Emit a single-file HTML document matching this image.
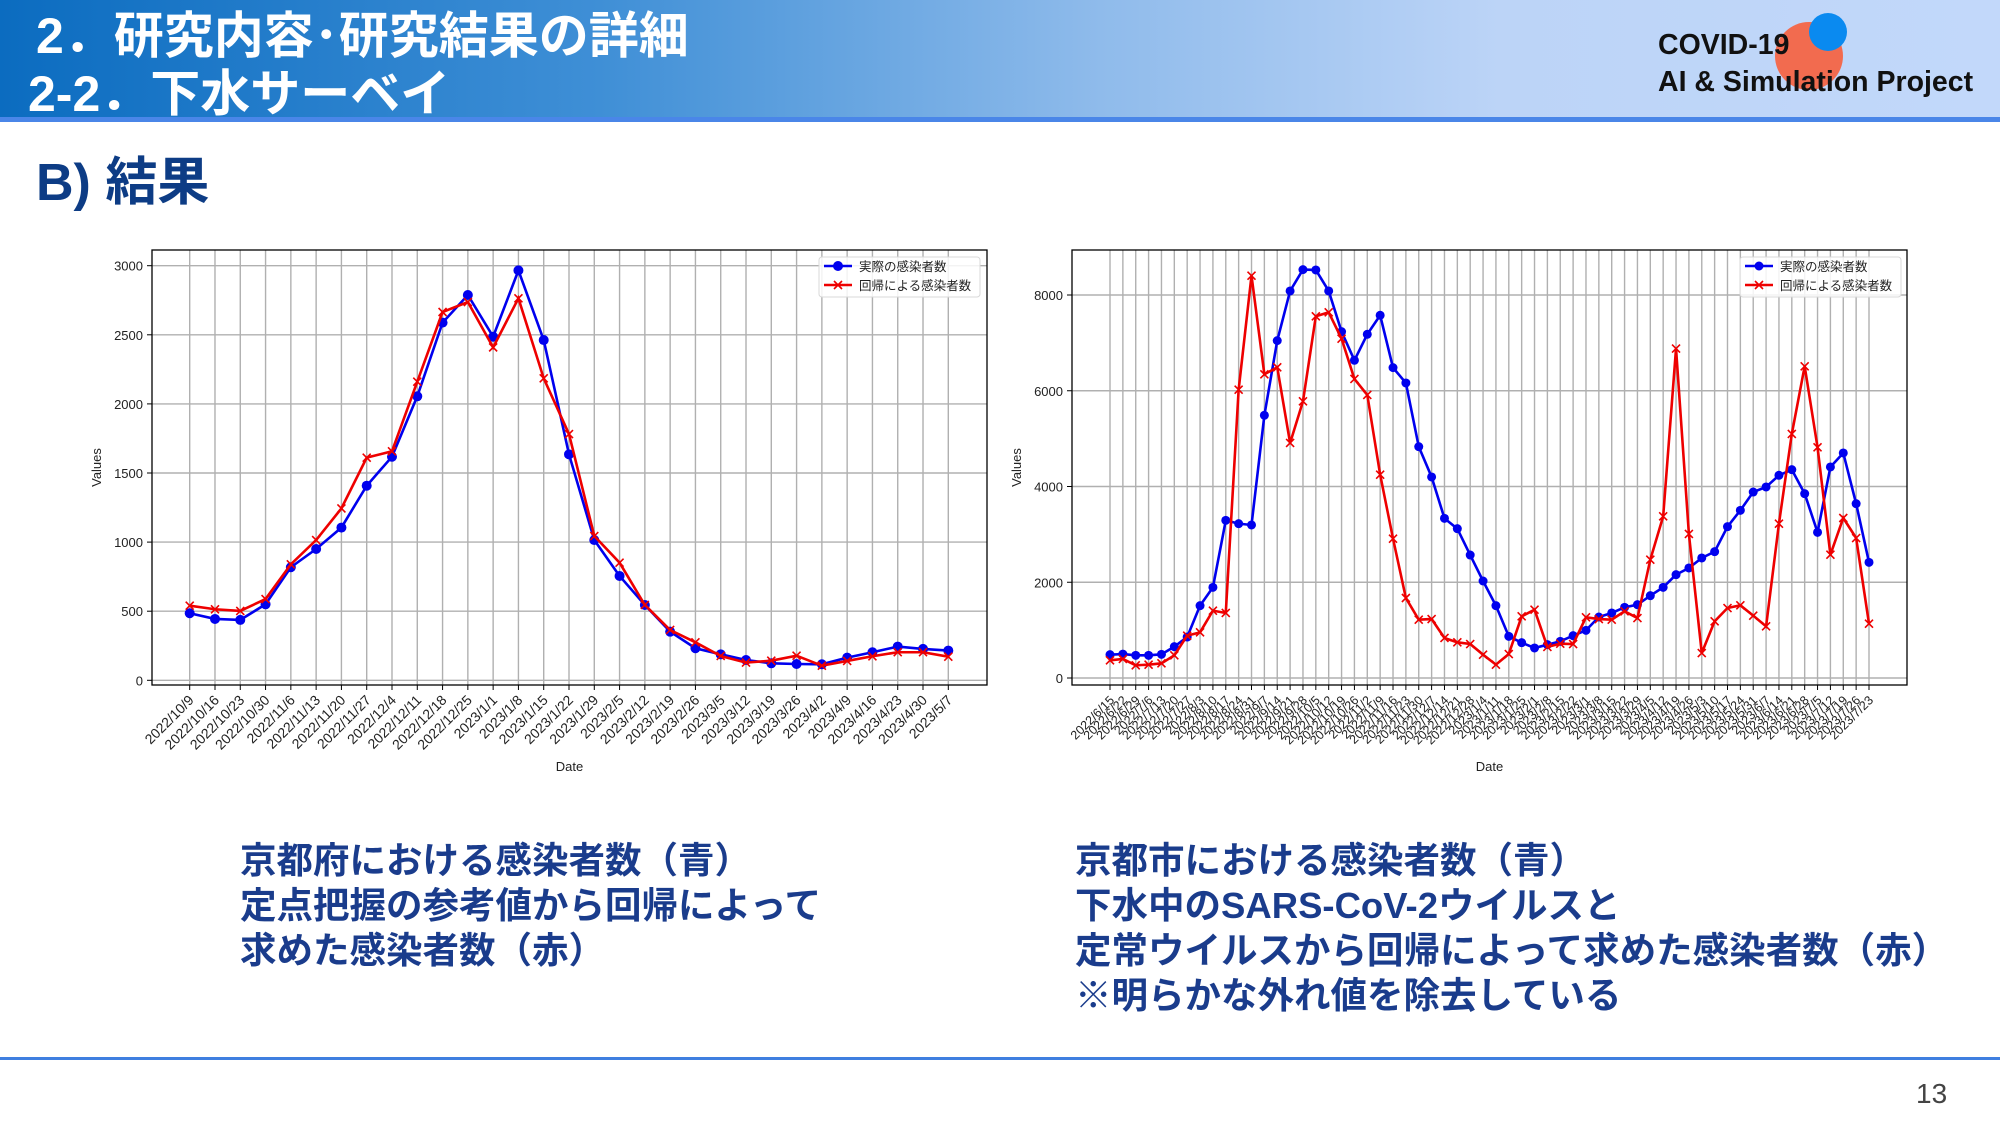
<!DOCTYPE html>
<html><head><meta charset="utf-8">
<style>
html,body{margin:0;padding:0;background:#fff;}
body{width:2000px;height:1125px;overflow:hidden;position:relative;font-family:"Liberation Sans","Noto Sans CJK JP",sans-serif;}
.hdr{position:absolute;left:0;top:0;width:2000px;height:118px;background:linear-gradient(90deg,#0b6cc0 0%,#3f8fd6 30%,#8fbbeb 55%,#bcd4f7 75%,#c2d8fa 100%);}
.hdrline{position:absolute;left:0;top:117px;width:2000px;height:5px;background:#4a86e8;}
.t{position:absolute;white-space:nowrap;font-weight:bold;}
</style></head>
<body>
<div class="hdr"></div>
<div class="hdrline"></div>
<div class="t" style="left:36px;top:-4px;font-size:50px;color:#fff;">2．研究内容･研究結果の詳細</div>
<div class="t" style="left:28px;top:54px;font-size:50px;color:#fff;">2-2．下水サーベイ</div>
<svg style="position:absolute;left:1760px;top:8px" width="100" height="100">
<circle cx="49" cy="48" r="34" fill="#f26b4f"/><circle cx="68" cy="24" r="19" fill="#0a8af0"/></svg>
<div class="t" style="left:1658px;top:29px;font-size:28.5px;color:#111;">COVID-19</div>
<div class="t" style="left:1658px;top:66px;font-size:28.5px;color:#111;">AI &amp; Simulation Project</div>
<div class="t" style="left:36px;top:140px;font-size:52px;color:#0d3c85;">B) 結果</div>

<svg id="ch" width="2000" height="1125" style="position:absolute;left:0;top:0"></svg>

<div class="t" style="left:240px;top:838px;font-size:36.5px;line-height:45px;color:#1a3c8c;">京都府における感染者数（青）<br>定点把握の参考値から回帰によって<br>求めた感染者数（赤）</div>
<div class="t" style="left:1075px;top:838px;font-size:36.5px;line-height:45px;color:#1a3c8c;">京都市における感染者数（青）<br>下水中のSARS-CoV-2ウイルスと<br>定常ウイルスから回帰によって求めた感染者数（赤）<br>※明らかな外れ値を除去している</div>
<div style="position:absolute;left:0;top:1057px;width:2000px;height:3px;background:#3f7fe0;"></div>
<div style="position:absolute;left:1916px;top:1078px;font-size:28px;color:#444;">13</div>

<script>
const leftDates=["2022/10/9","2022/10/16","2022/10/23","2022/10/30","2022/11/6","2022/11/13","2022/11/20","2022/11/27","2022/12/4","2022/12/11","2022/12/18","2022/12/25","2023/1/1","2023/1/8","2023/1/15","2023/1/22","2023/1/29","2023/2/5","2023/2/12","2023/2/19","2023/2/26","2023/3/5","2023/3/12","2023/3/19","2023/3/26","2023/4/2","2023/4/9","2023/4/16","2023/4/23","2023/4/30","2023/5/7"];
const leftActual=[485,444,437,550,818,950,1105,1408,1618,2055,2588,2788,2486,2966,2462,1635,1015,755,545,352,232,188,147,123,118,116,164,203,244,227,215];
const leftRegress=[540,514,502,588,839,1015,1244,1611,1657,2161,2665,2737,2409,2764,2185,1782,1044,851,545,364,275,176,128,142,178,106,140,174,203,203,171];
const leftTicks=[0,500,1000,1500,2000,2500,3000];
const rightDates=["2022/6/15","2022/6/22","2022/6/29","2022/7/6","2022/7/13","2022/7/20","2022/7/27","2022/8/3","2022/8/10","2022/8/17","2022/8/24","2022/8/31","2022/9/7","2022/9/14","2022/9/21","2022/9/28","2022/10/5","2022/10/12","2022/10/19","2022/10/26","2022/11/2","2022/11/9","2022/11/16","2022/11/23","2022/11/30","2022/12/7","2022/12/14","2022/12/21","2022/12/28","2023/1/4","2023/1/11","2023/1/18","2023/1/25","2023/2/1","2023/2/8","2023/2/15","2023/2/22","2023/3/1","2023/3/8","2023/3/15","2023/3/22","2023/3/29","2023/4/5","2023/4/12","2023/4/19","2023/4/26","2023/5/3","2023/5/10","2023/5/17","2023/5/24","2023/5/31","2023/6/7","2023/6/14","2023/6/21","2023/6/28","2023/7/5","2023/7/12","2023/7/19","2023/7/26","2023/7/23"];
const rightActual=[487,500,473,473,494,655,856,1511,1894,3293,3224,3196,5487,7047,8084,8530,8523,8084,7234,6636,7179,7576,6483,6162,4832,4199,3335,3119,2569,2026,1511,870,738,627,696,766,884,996,1274,1358,1476,1532,1720,1894,2159,2298,2507,2639,3161,3502,3885,3990,4234,4352,3851,3043,4408,4700,3642,2416];
const rightRegress=[369,397,265,279,306,473,884,954,1407,1358,6023,8404,6343,6490,4909,5779,7555,7638,7088,6246,5912,4247,2911,1671,1219,1232,836,745,710,487,279,501,1288,1427,648,717,710,1267,1232,1219,1393,1253,2472,3377,6880,3008,522,1184,1462,1518,1302,1079,3224,5097,6511,4818,2576,3342,2924,1135];
const rightTicks=[0,2000,4000,6000,8000];

const svg=document.getElementById('ch');
const NS='http://www.w3.org/2000/svg';
function mk(tag,attrs,parent){const e=document.createElementNS(NS,tag);for(const k in attrs)e.setAttribute(k,attrs[k]);(parent||svg).appendChild(e);return e;}

function chart(cfg){
  const g=mk('g',{});
  
  
  const n=cfg.dates.length;
  const xs=i=>cfg.x0+(cfg.x1-cfg.x0)*i/(n-1);
  const ys=v=>cfg.y0-(cfg.y0-cfg.yTop)*v/cfg.vTop;
  mk('rect',{x:cfg.L,y:cfg.T,width:cfg.R-cfg.L,height:cfg.B-cfg.T,fill:'#fff'},g);
  cfg.dates.forEach((d,i)=>{
    const l=mk('line',{x1:xs(i),x2:xs(i),y1:cfg.T,y2:cfg.B,stroke:'#b0b0b0','stroke-width':1.4},g);
    
    
    mk('line',{x1:xs(i),x2:xs(i),y1:cfg.B,y2:cfg.B+5,stroke:'#000','stroke-width':1},g);
    const t=mk('text',{x:0,y:0,'font-size':cfg.fs,'text-anchor':'end',fill:'#222',transform:`translate(${xs(i)+5},${cfg.B+16}) rotate(-45)`},g);
    t.textContent=d;
    
    
  });
  cfg.ticks.forEach(v=>{
    const l=mk('line',{x1:cfg.L,x2:cfg.R,y1:ys(v),y2:ys(v),stroke:'#b0b0b0','stroke-width':1.4},g);
    
    
    mk('line',{x1:cfg.L-5,x2:cfg.L,y1:ys(v),y2:ys(v),stroke:'#000','stroke-width':1},g);
    const t=mk('text',{x:cfg.L-9,y:ys(v)+5,'font-size':13,'text-anchor':'end',fill:'#222'},g);
    t.textContent=v;
    
    
  });
  mk('rect',{x:cfg.L,y:cfg.T,width:cfg.R-cfg.L,height:cfg.B-cfg.T,fill:'none',stroke:'#000','stroke-width':1.3},g);
  const blue=cfg.actual.map((v,i)=>xs(i)+','+ys(v)).join(' ');
  const bl=mk('polyline',{points:blue,fill:'none',stroke:'#0000ee','stroke-width':2.6},g);
  
  
  cfg.actual.forEach((v,i)=>{
    const c=mk('circle',{cx:xs(i),cy:ys(v),r:cfg.r,fill:'#0000ee'},g);
    
    
  });
  const red=cfg.regress.map((v,i)=>xs(i)+','+ys(v)).join(' ');
  const rl=mk('polyline',{points:red,fill:'none',stroke:'#ee0000','stroke-width':2.6},g);
  
  
  cfg.regress.forEach((v,i)=>{
    const x=xs(i),y=ys(v),s=4;
    const p=mk('path',{d:`M${x-s},${y-s}L${x+s},${y+s}M${x-s},${y+s}L${x+s},${y-s}`,stroke:'#ee0000','stroke-width':1.6},g);
    
    
  });
  const lg=mk('g',{},g);
  
  
  mk('rect',{x:cfg.lx,y:257,width:161,height:40,rx:3,fill:'#fff','fill-opacity':0.85,stroke:'#d8d8d8'},lg);
  mk('line',{x1:cfg.lx+5,x2:cfg.lx+33,y1:266,y2:266,stroke:'#0000ee','stroke-width':2.6},lg);
  mk('circle',{cx:cfg.lx+19,cy:266,r:cfg.r,fill:'#0000ee'},lg);
  mk('line',{x1:cfg.lx+5,x2:cfg.lx+33,y1:285,y2:285,stroke:'#ee0000','stroke-width':2.6},lg);
  mk('path',{d:`M${cfg.lx+15},281L${cfg.lx+23},289M${cfg.lx+15},289L${cfg.lx+23},281`,stroke:'#ee0000','stroke-width':1.6},lg);
  const t1=mk('text',{x:cfg.lx+40,y:271,'font-size':12.5,fill:'#222'},lg);t1.textContent='実際の感染者数';
  
  
  const t2=mk('text',{x:cfg.lx+40,y:290,'font-size':12.5,fill:'#222'},lg);t2.textContent='回帰による感染者数';
  
  
  const xt=mk('text',{x:(cfg.L+cfg.R)/2,y:771,'font-size':13,'text-anchor':'middle',fill:'#222'},g);xt.textContent='Date';
  
  
  const yt=mk('text',{x:0,y:0,'font-size':13,'text-anchor':'middle',fill:'#222',transform:`translate(${cfg.yl},${(cfg.T+cfg.B)/2}) rotate(-90)`},g);yt.textContent='Values';
  
  
}
chart({name:'left-chart',dates:leftDates,actual:leftActual,regress:leftRegress,ticks:leftTicks,
  L:152,R:987,T:250,B:685,x0:189.7,x1:948.3,y0:680.3,yTop:265.7,vTop:3000,r:5,fs:14,lx:819,yl:101});
chart({name:'right-chart',dates:rightDates,actual:rightActual,regress:rightRegress,ticks:rightTicks,
  L:1072,R:1907,T:250,B:685,x0:1110,x1:1869,y0:678,yTop:295,vTop:8000,r:4.5,fs:12.5,lx:1740,yl:1021});
</script>
</body></html>
